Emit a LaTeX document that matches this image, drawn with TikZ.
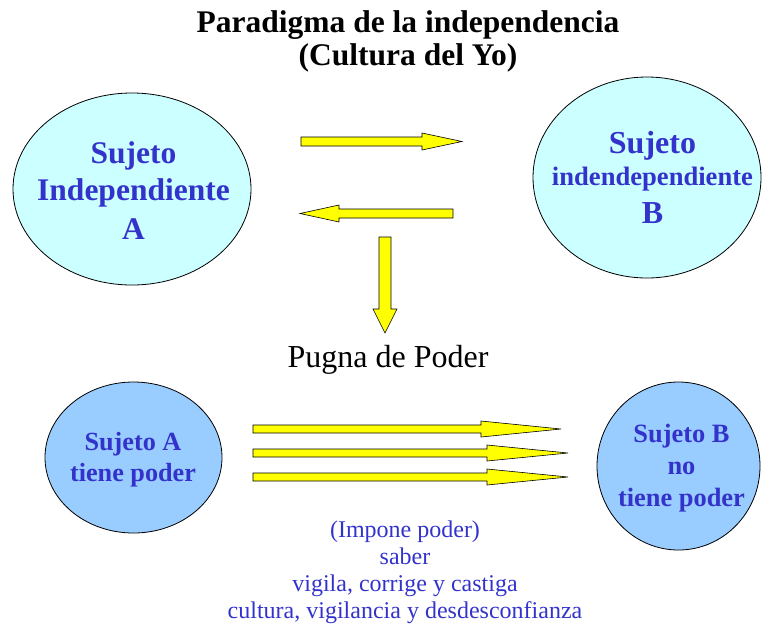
\documentclass[tikz,border=0pt]{standalone}
\usepackage{fontspec}
\setmainfont{Liberation Serif}
\usetikzlibrary{shapes.geometric}
\definecolor{txtblue}{RGB}{51,51,204}
\definecolor{lcyan}{RGB}{204,255,255}
\definecolor{lblue}{RGB}{153,204,255}
\definecolor{ayellow}{RGB}{255,255,0}
\begin{document}
\begin{tikzpicture}[x=1pt,y=-1pt,
  bubble/.style={ellipse, draw=black, line width=0.8pt, inner sep=0pt},
  bubtext/.style={anchor=base, inner sep=0pt, text=txtblue, font=\bfseries\fontsize{#1}{#1}\selectfont},
  blockarrow/.style={fill=ayellow, draw=black, line width=0.6pt, line join=miter},
  titletext/.style={anchor=base, font=\bfseries\fontsize{31.5}{36}\selectfont},
  bluetext/.style={anchor=base, text=txtblue, font=\fontsize{24}{28}\selectfont}]
\useasboundingbox (0,0) rectangle (762,630);

% title
\node[titletext] (t1) at (408,32) {Paradigma de la independencia};
\node[titletext] (t2) at (408,65) {(Cultura del Yo)};

% upper ellipses
\node[bubble, fill=lcyan, minimum width=238, minimum height=192] (sa) at (132,189) {};
\node[bubtext=31.5] (sa1) at (133.5,163) {Sujeto};
\node[bubtext=31.5] (sa2) at (133.5,200) {Independiente};
\node[bubtext=31.5] (sa3) at (133.5,239) {A};

\node[bubble, fill=lcyan, minimum width=228, minimum height=201] (sb) at (647,177.5) {};
\node[bubtext=32] (sb1) at (652.5,153) {Sujeto};
\node[bubtext=26.6] (sb2) at (652.5,185) {indendependiente};
\node[bubtext=32] (sb3) at (652.5,223) {B};

% arrows between upper ellipses
\draw[blockarrow] (301,137) -- (422,137) -- (422,133) -- (462,141.5) -- (422,150) -- (422,146) -- (301,146) -- cycle;
\draw[blockarrow] (453,209) -- (339,209) -- (339,205) -- (300,213.5) -- (339,222) -- (339,218) -- (453,218) -- cycle;
\draw[blockarrow] (379,237) -- (379,309) -- (373,309) -- (385,333) -- (397,309) -- (391,309) -- (391,237) -- cycle;

\node[anchor=base, font=\fontsize{32}{36}\selectfont] (pp) at (388,367) {Pugna de Poder};

% lower circles
\node[bubble, fill=lblue, minimum width=177, minimum height=151] (pa) at (133.5,457.5) {};
\node[bubtext=26.2] (pa1) at (133,450.5) {Sujeto A};
\node[bubtext=26.2] (pa2) at (133,481) {tiene poder};

\node[bubble, fill=lblue, minimum width=163, minimum height=168] (pb) at (678.5,466) {};
\node[bubtext=26.4] (pb1) at (681.5,442.5) {Sujeto B};
\node[bubtext=26.4] (pb2) at (681.5,474) {no};
\node[bubtext=26.4] (pb3) at (681.5,506) {tiene poder};

% three arrows
\draw[blockarrow] (253,425) -- (481,425) -- (481,421) -- (561,429) -- (481,437) -- (481,433) -- (253,433) -- cycle;
\draw[blockarrow] (253,449) -- (487,449) -- (487,445) -- (568,453) -- (487,461) -- (487,457) -- (253,457) -- cycle;
\draw[blockarrow] (253,473) -- (487,473) -- (487,469) -- (568,477) -- (487,485) -- (487,481) -- (253,481) -- cycle;

% lower text
\node[bluetext] (l1) at (405,537) {(Impone poder)};
\node[bluetext] (l2) at (405,564) {saber};
\node[bluetext] (l3) at (405,591) {vigila, corrige y castiga};
\node[bluetext] (l4) at (405,618) {cultura, vigilancia y desdesconfianza};
\end{tikzpicture}
\end{document}
